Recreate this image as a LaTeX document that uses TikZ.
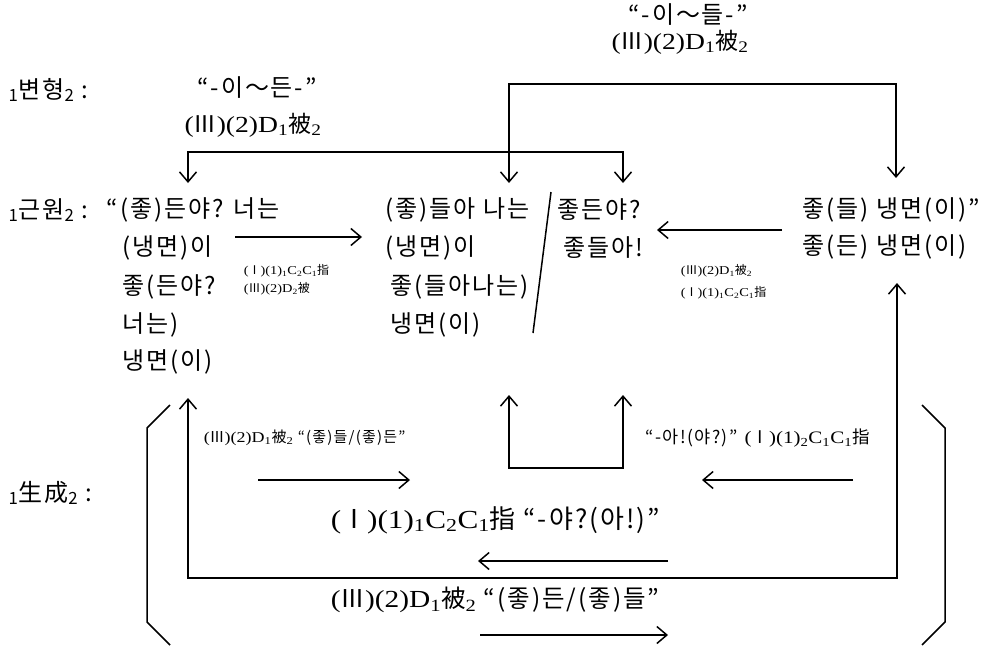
\documentclass[tikz,border=0pt]{standalone}
\usepackage{fontspec}
\setmainfont[FakeStretch=1.2]{Liberation Serif}
\newfontfamily\kr[LetterSpace=8]{Noto Sans CJK KR}
\usetikzlibrary{arrows.meta}
\newcommand{\lo}[1]{\textsubscript{#1}}
\newcommand{\RIII}{{\kr Ⅲ}}
\newcommand{\RI}{{\kr Ⅰ}}
\newcommand{\pei}{{\kr 被}}
\newcommand{\zhi}{{\kr 指}}

\begin{document}
\begin{tikzpicture}[x=1pt, y=-1pt, line width=1.5pt,
  >={Straight Barb[length=10pt,width=17pt]},
  kor/.style={anchor=west, inner sep=0pt, font=\fontsize{24}{28}\selectfont\kr},
  lab/.style={inner sep=0pt, font=\fontsize{23}{26}\selectfont},
  blab/.style={anchor=west, inner sep=0pt, font=\fontsize{#1}{28}\selectfont},
  mlab/.style={anchor=west, inner sep=0pt, font=\fontsize{#1}{19}\selectfont},
  small/.style={anchor=west, inner sep=0pt, font=\fontsize{12}{14}\selectfont}]
  \useasboundingbox (0,0) rectangle (995,648);

  % headings
  \node[kor] (bh) at (8,90) {\lo{1}변형\lo{2}\ :};
  \node[kor] (gw) at (8,210) {\lo{1}근원\lo{2}\ :};
  \node[kor] (sc) at (8,493) {\lo{1}生成\lo{2}\ :};

  % forms
  \node[kor, anchor=center] (bhA) at (257,88) {“-이～든-”};
  \node[lab] (bhB) at (253,125) {(\RIII)(2)D\lo{1}\pei\lo{2}};
  \node[kor, anchor=center] (bhC) at (688,15) {“-이～들-”};
  \node[lab] (bhD) at (680,42) {(\RIII)(2)D\lo{1}\pei\lo{2}};

  % source sentence
  \node[kor] (src1) at (106,210) {“(좋)든야? 너는};
  \node[kor] (src2) at (122,248) {(냉면)이};
  \node[kor] (src3) at (122,287) {좋(든야?};
  \node[kor] (src4) at (122,325) {너는)};
  \node[kor] (src5) at (122,362) {냉면(이)};

  \node[kor] (mid1) at (385,210) {(좋)들아 나는};
  \node[kor] (mid2) at (385,248) {(냉면)이};
  \node[kor] (mid3) at (390,287) {좋(들아나는)};
  \node[kor] (mid4) at (390,325) {냉면(이)};
  \node[kor] (alt1) at (557,210) {좋든야?};
  \node[kor] (alt2) at (563,248) {좋들아!};

  \node[kor] (rt1) at (802,210) {좋(들) 냉면(이)”};
  \node[kor] (rt2) at (802,247) {좋(든) 냉면(이)};

  % rule labels
  \node[small] (l1) at (243,271) {(\RI)(1)\lo{1}C\lo{2}C\lo{1}\zhi};
  \node[small] (l2) at (243,289) {(\RIII)(2)D\lo{2}\pei};
  \node[small] (r1) at (680,271) {(\RIII)(2)D\lo{1}\pei\lo{2}};
  \node[small] (r2) at (680,293) {(\RI)(1)\lo{1}C\lo{2}C\lo{1}\zhi};

  \node[mlab=15] (m1) at (203,438) {(\RIII)(2)D\lo{1}\pei\lo{2} {\kr “(좋)들/(좋)든”}};
  \node[mlab=17.5] (m2) at (645,438) {{\kr “-아!(야?)”} (\RI)(1)\lo{2}C\lo{1}C\lo{1}\zhi};
  \node[blab=26] (b1) at (330,520) {(\RI)(1)\lo{1}C\lo{2}C\lo{1}\zhi\ {\kr “-야?(아!)”}};
  \node[blab=24.5] (b2) at (330,600) {(\RIII)(2)D\lo{1}\pei\lo{2}\ {\kr “(좋)든/(좋)들”}};

  % corners and tips
  \coordinate (ta) at (188,183); \coordinate (a1) at (188,152);
  \coordinate (a2) at (623,152); \coordinate (tb) at (623,183);
  \coordinate (tc) at (509,183); \coordinate (c1) at (509,84);
  \coordinate (c2) at (896,84);  \coordinate (td) at (896,178);
  \coordinate (te) at (509,395); \coordinate (e1) at (509,468);
  \coordinate (e2) at (623,468); \coordinate (tf) at (623,395);
  \coordinate (tg) at (188,398); \coordinate (g1) at (188,578);
  \coordinate (g2) at (897,578); \coordinate (th) at (897,283);

  \draw[<->] (ta) -- (a1) -- (a2) -- (tb);
  \draw[<->] (tc) -- (c1) -- (c2) -- (td);
  \draw[<->] (te) -- (e1) -- (e2) -- (tf);
  \draw[<->] (tg) -- (g1) -- (g2) -- (th);

  % short arrows
  \coordinate (p1) at (235,237); \coordinate (p2) at (362,237);
  \coordinate (q1) at (782,230); \coordinate (q2) at (657,230);
  \coordinate (s1) at (258,480); \coordinate (s2) at (410,480);
  \coordinate (u1) at (853,480); \coordinate (u2) at (702,480);
  \coordinate (v1) at (668,561); \coordinate (v2) at (478,561);
  \coordinate (w1) at (480,635); \coordinate (w2) at (668,635);
  \draw[->] (p1) -- (p2);
  \draw[->] (q1) -- (q2);
  \draw[->] (s1) -- (s2);
  \draw[->] (u1) -- (u2);
  \draw[->] (v1) -- (v2);
  \draw[->] (w1) -- (w2);

  % slash and brackets
  \draw (551,192) -- (533,333);
  \draw (170,405) -- (147,428) -- (147,622) -- (170,645);
  \draw (922,405) -- (945,428) -- (945,622) -- (922,645);
\end{tikzpicture}
\end{document}
